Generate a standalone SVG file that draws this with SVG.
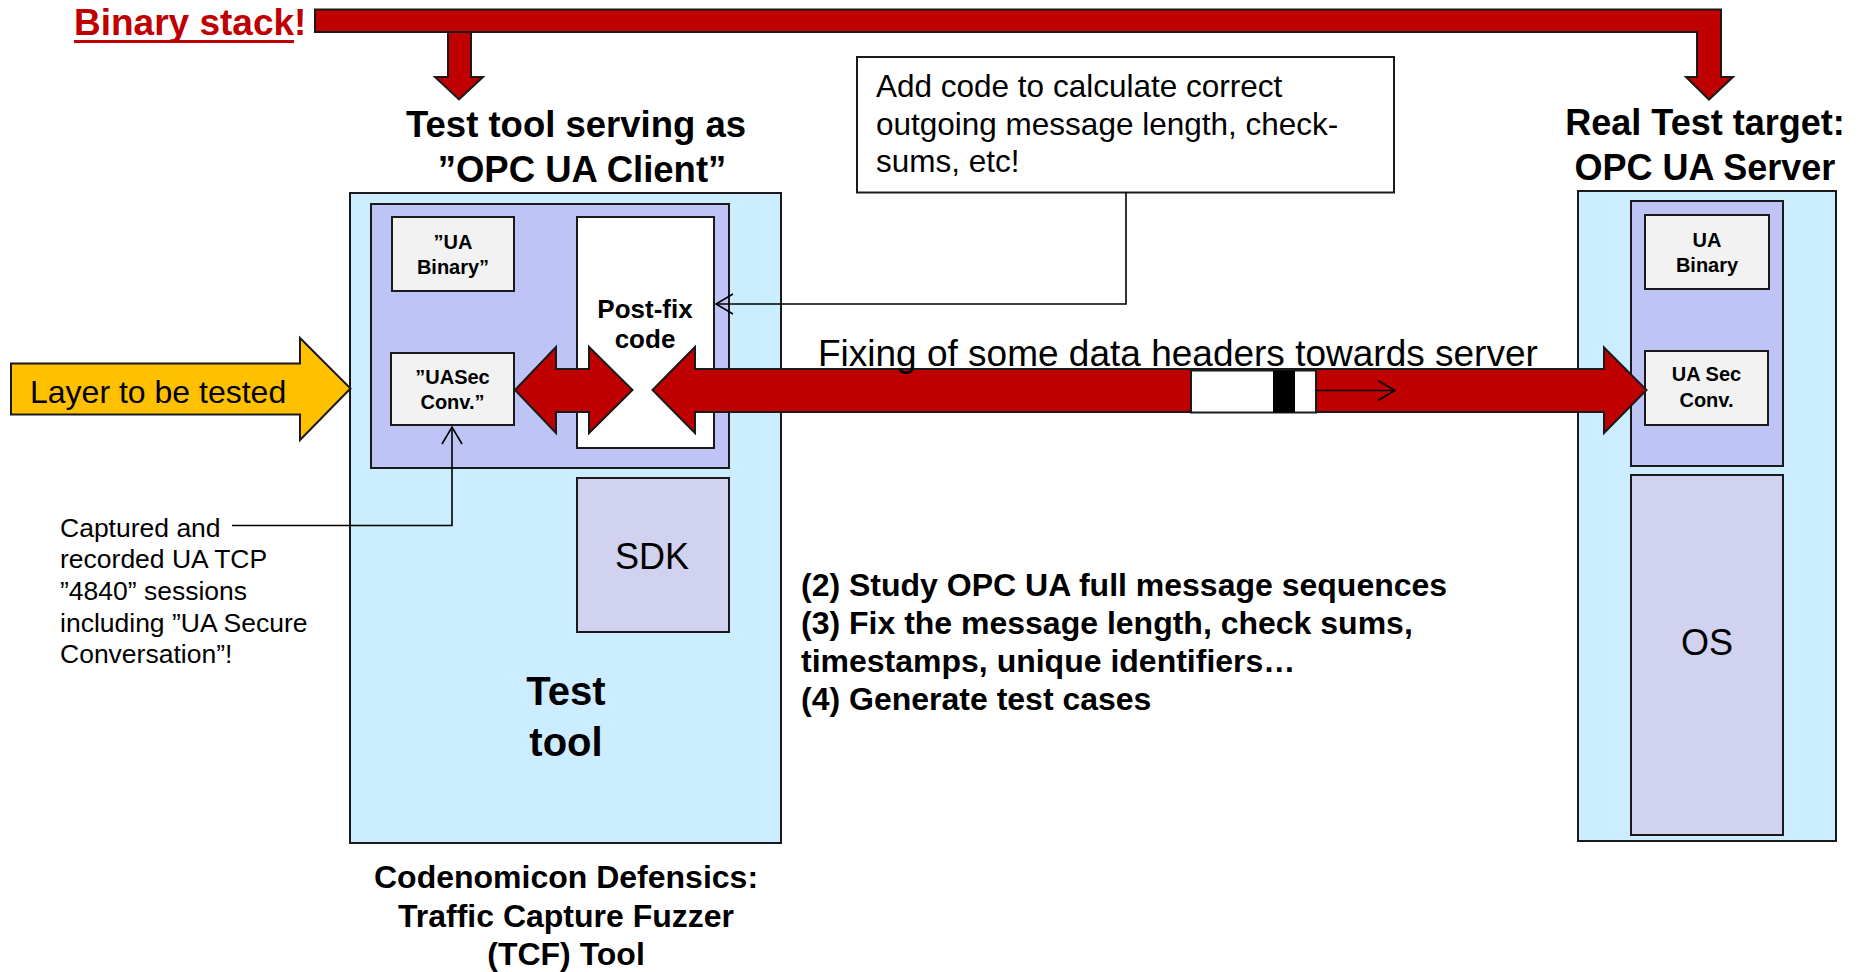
<svg xmlns="http://www.w3.org/2000/svg" width="1859" height="972" viewBox="0 0 1859 972">
  <defs>
    <style>
      text { font-family: "Liberation Sans", Arial, sans-serif; fill: #000; }
      .b { font-weight: bold; }
      .mid { text-anchor: middle; }
      .red { fill: #C00000; }
      .outer { fill: #CCECFF; stroke: #1a1a1a; stroke-width: 2; }
      .stack { fill: #BEC5F6; stroke: #1a1a1a; stroke-width: 2; }
      .layer { fill: #F2F2F2; stroke: #1a1a1a; stroke-width: 2; }
      .lav { fill: #D0D2F0; stroke: #1a1a1a; stroke-width: 2; }
      .white { fill: #FFFFFF; stroke: #1a1a1a; stroke-width: 2; }
      .block { fill: #C00000; stroke: #1a1a1a; stroke-width: 2; stroke-linejoin: miter; }
      .yellow { fill: #FFC000; stroke: #1a1a1a; stroke-width: 2; }
      .wire { fill: none; stroke: #000; stroke-width: 1.6; }
    </style>
    <marker id="open" viewBox="0 0 20 22" refX="18" refY="11" markerWidth="20" markerHeight="22" markerUnits="userSpaceOnUse" orient="auto">
      <path d="M1,1 L18,11 L1,21" fill="none" stroke="#000" stroke-width="1.6"/>
    </marker>
  </defs>

  <!-- heading -->
  <g id="title">
    <text x="74" y="35" class="b red" font-size="37">Binary stack!</text>
    <rect x="74" y="40" width="220" height="3" fill="#C00000"/>
  </g>

  <!-- block arrows from the binary stack down to client and server -->
  <g id="binary-stack-arrows">
    <polygon class="block" points="448,30 471,30 471,77 483,77 459,99.5 435,77 448,77"/>
    <polygon class="block" points="315,9.5 1721,9.5 1721,77 1733,77 1709,99.5 1686,77 1697,77 1697,32 315,32"/>
  </g>

  <!-- client side -->
  <g id="client-title">
    <text x="576" y="137" class="b mid" font-size="36.5">Test tool serving as</text>
    <text x="582" y="182" class="b mid" font-size="36.5">”OPC UA Client”</text>
  </g>

  <g id="test-tool">
    <rect class="outer" x="350" y="193" width="431" height="650"/>
    <text x="566" y="705" class="b mid" font-size="40">Test</text>
    <text x="566" y="756" class="b mid" font-size="40">tool</text>
  </g>

  <g id="client-stack">
    <rect class="stack" x="371" y="204" width="358" height="264"/>
  </g>

  <g id="client-ua-binary">
    <rect class="layer" x="392" y="217" width="122" height="74"/>
    <text x="453" y="249" class="b mid" font-size="20">”UA</text>
    <text x="453" y="274" class="b mid" font-size="20">Binary”</text>
  </g>

  <g id="client-uasec">
    <rect class="layer" x="391" y="353" width="123" height="72"/>
    <text x="452.5" y="384" class="b mid" font-size="20">”UASec</text>
    <text x="452.5" y="409" class="b mid" font-size="20">Conv.”</text>
  </g>

  <g id="post-fix">
    <rect class="white" x="577" y="217" width="137" height="231"/>
    <text x="645" y="318" class="b mid" font-size="26">Post-fix</text>
    <text x="645" y="348" class="b mid" font-size="26">code</text>
  </g>

  <g id="sdk">
    <rect class="lav" x="577" y="478" width="152" height="154"/>
    <text x="652" y="569" class="mid" font-size="36">SDK</text>
  </g>

  <g id="tool-caption">
    <text x="566" y="888" class="b mid" font-size="32">Codenomicon Defensics:</text>
    <text x="566" y="927" class="b mid" font-size="32">Traffic Capture Fuzzer</text>
    <text x="566" y="965" class="b mid" font-size="32">(TCF) Tool</text>
  </g>

  <!-- server side -->
  <g id="server-title">
    <text x="1705" y="135" class="b mid" font-size="36">Real Test target:</text>
    <text x="1705" y="180" class="b mid" font-size="36">OPC UA Server</text>
  </g>

  <g id="server">
    <rect class="outer" x="1578" y="191" width="258" height="650"/>
  </g>

  <g id="server-stack">
    <rect class="stack" x="1631" y="201" width="152" height="265"/>
  </g>

  <g id="server-ua-binary">
    <rect class="layer" x="1645" y="215" width="124" height="74"/>
    <text x="1707" y="247" class="b mid" font-size="20">UA</text>
    <text x="1707" y="272" class="b mid" font-size="20">Binary</text>
  </g>

  <g id="server-uasec">
    <rect class="layer" x="1645" y="351" width="123" height="74"/>
    <text x="1706.5" y="381" class="b mid" font-size="20">UA Sec</text>
    <text x="1706.5" y="407" class="b mid" font-size="20">Conv.</text>
  </g>

  <g id="os">
    <rect class="lav" x="1631" y="475" width="152" height="360"/>
    <text x="1707" y="655" class="mid" font-size="36">OS</text>
  </g>

  <!-- layer under test -->
  <g id="layer-to-be-tested">
    <polygon class="yellow" points="11,363.5 300,363.5 300,338 350.5,388.5 300,440 300,414.5 11,414.5"/>
    <text x="30" y="403" font-size="32">Layer to be tested</text>
  </g>

  <!-- annotation boxes and notes -->
  <g id="callout">
    <rect class="white" x="857" y="57" width="537" height="135.5"/>
    <text x="876" y="97" font-size="31.5">Add code to calculate correct</text>
    <text x="876" y="135" font-size="31.5">outgoing message length, check-</text>
    <text x="876" y="172" font-size="31.5">sums, etc!</text>
  </g>

  <g id="capture-note">
    <text x="60" y="537" font-size="26.5">Captured and</text>
    <text x="60" y="568" font-size="26.5">recorded UA TCP</text>
    <text x="60" y="600" font-size="26.5">”4840” sessions</text>
    <text x="60" y="632" font-size="26.5">including ”UA Secure</text>
    <text x="60" y="663" font-size="26.5">Conversation”!</text>
  </g>

  <g id="steps">
    <text x="801" y="596" class="b" font-size="32">(2) Study OPC UA full message sequences</text>
    <text x="801" y="634" class="b" font-size="32">(3) Fix the message length, check sums,</text>
    <text x="801" y="672" class="b" font-size="32">timestamps, unique identifiers…</text>
    <text x="801" y="710" class="b" font-size="32">(4) Generate test cases</text>
  </g>

  <!-- connectors -->
  <g id="connectors">
    <polygon class="block" points="515,390 556,347 556,369 589,369 589,347 632.5,390 589,433 589,412 556,412 556,433"/>
    <polygon class="block" points="652.5,390 695,347 695,369 1604,369 1604,347.5 1646.5,390 1604,433 1604,412 695,412 695,433"/>
    <rect x="1191" y="370.5" width="125" height="42" fill="#FFFFFF" stroke="#1a1a1a" stroke-width="2"/>
    <rect x="1273" y="370.5" width="22" height="42" fill="#000"/>
    <line class="wire" x1="1316" y1="390.5" x2="1395" y2="390.5" marker-end="url(#open)"/>
    <polyline class="wire" points="1126,192.5 1126,304 716,304" marker-end="url(#open)"/>
    <polyline class="wire" points="232,525.5 452,525.5 452,427" marker-end="url(#open)"/>
    <text x="818" y="366" font-size="37">Fixing of some data headers towards server</text>
  </g>
</svg>
